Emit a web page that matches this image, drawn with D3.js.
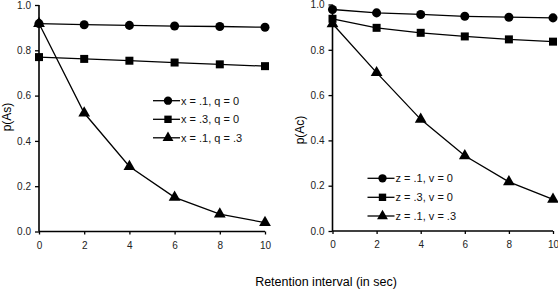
<!DOCTYPE html>
<html><head><meta charset="utf-8">
<script src="https://cdn.jsdelivr.net/npm/d3@7"></script>
<style>body{margin:0;background:#fff}svg{display:block;font-family:"Liberation Sans",Arial,sans-serif}</style>
</head><body><svg id="c" width="558" height="290"></svg>
<script>
const times = [0, 2, 4, 6, 8, 10];
const xTicks = [0, 2, 4, 6, 8, 10];
const yTicks = [0, 0.2, 0.4, 0.6, 0.8, 1.0];
// Left panel: p(As)
const leftCircle = [0.918, 0.913, 0.910, 0.907, 0.905, 0.902];
const leftSquare = [0.770, 0.762, 0.754, 0.746, 0.738, 0.730];
const leftTriangle = [0.918, 0.523, 0.287, 0.151, 0.077, 0.039];
const leftLabels = ["x = .1, q = 0", "x = .3, q = 0", "x = .1, q = .3"];
// Right panel: p(Ac)
const rightCircle = [0.978, 0.963, 0.956, 0.948, 0.944, 0.941];
const rightSquare = [0.937, 0.897, 0.875, 0.859, 0.846, 0.836];
const rightTriangle = [0.915, 0.699, 0.493, 0.332, 0.217, 0.140];
const rightLabels = ["z = .1, v = 0", "z = .3, v = 0", "z = .1, v = .3"];
const xTitle = "Retention interval (in sec)";

const svg = d3.select("#c");
const shapes = [d3.symbolCircle, d3.symbolSquare, d3.symbolTriangle];
const sizes = [64, 64, 60];

function panel(cfg) {
  const x = d3.scaleLinear().domain([0, 10]).range([cfg.x0, cfg.x1]);
  const y = d3.scaleLinear().domain([0, 1]).range([cfg.yb, cfg.yt]);
  const g = svg.append("g");
  const xa = g.append("g").attr("transform", `translate(0,${cfg.yb})`)
    .call(d3.axisBottom(x).tickValues(xTicks).tickSize(3).tickPadding(7).tickFormat(d3.format("d")));
  const ya = g.append("g").attr("transform", `translate(${cfg.x0},0)`)
    .call(d3.axisLeft(y).tickValues(yTicks).tickSize(4).tickPadding(4).tickFormat(d3.format(".1f")));
  [xa, ya].forEach(a => {
    a.select(".domain").attr("stroke", "#000").attr("stroke-width", 1.6);
    a.selectAll(".tick line").attr("stroke", "#000").attr("stroke-width", 1.3);
    a.selectAll("text").attr("font-size", 10).attr("fill", "#222").attr("font-family", '"Liberation Sans",Arial,sans-serif');
  });
  xa.select(".domain").attr("d", `M${cfg.x0},0H${cfg.x1}`);
  ya.select(".domain").attr("d", `M0,${cfg.yb}V${cfg.yt}`);
  g.append("text").attr("transform", `translate(${cfg.lx},${cfg.ly}) rotate(-90)`)
    .attr("text-anchor", "middle").attr("dominant-baseline", "middle")
    .attr("font-size", 12).text(cfg.ylabel);
  const line = d3.line().x((d, i) => x(times[i])).y(d => y(d));
  cfg.series.forEach((s, k) => {
    g.append("path").attr("d", line(s)).attr("fill", "none").attr("stroke", "#000").attr("stroke-width", 1.3);
    g.selectAll(null).data(s).join("path")
      .attr("transform", (d, i) => `translate(${x(times[i])},${y(d)})`)
      .attr("d", d3.symbol(shapes[k], sizes[k])).attr("fill", "#000");
  });
  cfg.labels.forEach((t, k) => {
    const ly = cfg.legY[k];
    g.append("line").attr("x1", cfg.legX).attr("x2", cfg.legX + 27).attr("y1", ly).attr("y2", ly)
      .attr("stroke", "#000").attr("stroke-width", 1.3);
    g.append("path").attr("transform", `translate(${cfg.legX + 15},${ly})`)
      .attr("d", d3.symbol(shapes[k], sizes[k] * 0.85)).attr("fill", "#000");
    g.append("text").attr("x", cfg.legX + 28).attr("y", ly).attr("dominant-baseline", "central")
      .attr("font-size", 11).attr("fill", "#111").text(t);
  });
}

panel({x0: 39, x1: 265, yb: 231.5, yt: 5, lx: 8, ly: 117, ylabel: "p(As)",
  series: [leftCircle, leftSquare, leftTriangle], labels: leftLabels,
  legX: 153, legY: [100.7, 119.3, 137.8]});
panel({x0: 332.5, x1: 553, yb: 231, yt: 4.5, lx: 301, ly: 130, ylabel: "p(Ac)",
  series: [rightCircle, rightSquare, rightTriangle], labels: rightLabels,
  legX: 367.5, legY: [178.3, 197.3, 216]});

svg.append("text").attr("x", 326).attr("y", 283).attr("text-anchor", "middle")
  .attr("dominant-baseline", "middle").attr("font-size", 12.5).text(xTitle);
</script></body></html>
